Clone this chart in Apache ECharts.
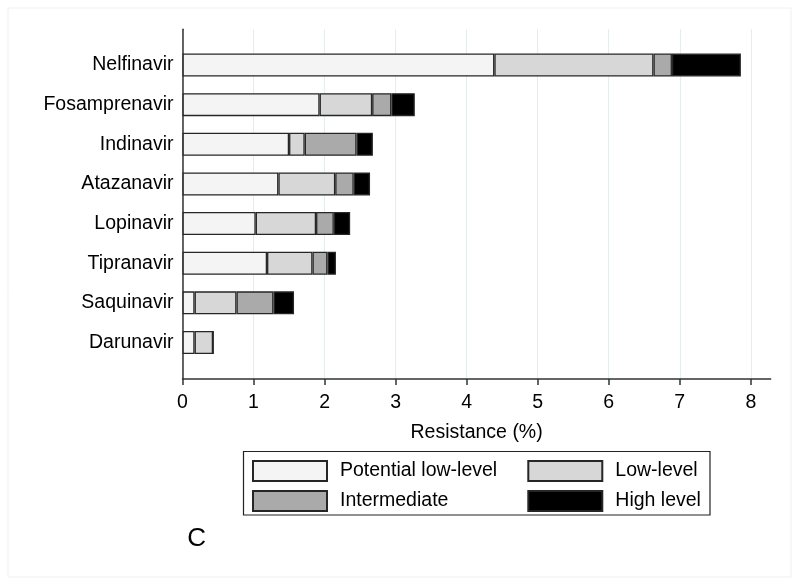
<!DOCTYPE html>
<html>
<head>
<meta charset="utf-8">
<script src="https://cdn.jsdelivr.net/npm/echarts@6/dist/echarts.min.js"></script>
<style>html,body{margin:0;padding:0;background:#fff}#c{width:800px;height:586px}</style>
</head>
<body>
<div id="c"></div>
<script>
var categories = ['Nelfinavir','Fosamprenavir','Indinavir','Atazanavir','Lopinavir','Tipranavir','Saquinavir','Darunavir'];
var potentialLow = [4.39, 1.93, 1.50, 1.35, 1.03, 1.19, 0.17, 0.17];
var lowLevel     = [2.24, 0.74, 0.22, 0.80, 0.85, 0.64, 0.59, 0.26];
var intermediate = [0.26, 0.27, 0.73, 0.26, 0.25, 0.21, 0.52, 0];
var highLevel    = [0.97, 0.33, 0.23, 0.23, 0.23, 0.12, 0.29, 0];
var tickValues = [0,1,2,3,4,5,6,7,8];
var seriesNames = ['Potential low-level','Low-level','Intermediate','High level'];

var FONT = '"Liberation Sans", Arial, Helvetica, sans-serif';
var FS = 19.5;
var xMax = 8.28;
var colors = ['#f4f4f4','#d7d7d7','#aaaaaa','#000000'];
var dataSets = [potentialLow, lowLevel, intermediate, highLevel];

var chart = echarts.init(document.getElementById('c'), null, {renderer:'canvas'});
var series = seriesNames.map(function(n,i){
  return {
    name:n, type:'bar', stack:'total', xAxisIndex:1, yAxisIndex:1,
    barWidth:23, data:dataSets[i],
    itemStyle:{color:colors[i], borderColor:'#262626', borderWidth:1.3},
    emphasis:{disabled:true}, animation:false
  };
});
var option = {
  animation:false,
  textStyle:{fontFamily:FONT},
  grid:[
    {left:182.5, right:29.3, top:29.3, bottom:207},
    {left:182.5, right:29.3, top:45.2, bottom:223.7}
  ],
  xAxis:[
    {type:'value', gridIndex:0, min:0, max:xMax, interval:1,
     axisLine:{show:true, lineStyle:{color:'#333', width:1.5}},
     axisTick:{show:true, length:6, customValues:tickValues, lineStyle:{color:'#333', width:1.5}},
     axisLabel:{customValues:tickValues, color:'#000', fontSize:FS, fontFamily:FONT, margin:14},
     splitLine:{show:true, lineStyle:{color:'#e5eeee', width:1.2}},
     name:'Resistance (%)', nameLocation:'middle', nameGap:44,
     nameTextStyle:{color:'#000', fontSize:FS, fontFamily:FONT}},
    {type:'value', gridIndex:1, min:0, max:xMax, show:false}
  ],
  yAxis:[
    {type:'value', gridIndex:0, min:0, max:1,
     axisLine:{show:true, lineStyle:{color:'#333', width:1.5}},
     axisTick:{show:false}, axisLabel:{show:false}, splitLine:{show:false}},
    {type:'category', gridIndex:1, inverse:true, data:categories,
     axisLine:{show:false}, axisTick:{show:false},
     axisLabel:{color:'#000', fontSize:FS, fontFamily:FONT, margin:9, padding:[5,0,0,0]}}
  ],
  legend:[
    {data:[seriesNames[0], seriesNames[2]], orient:'vertical', left:252, top:460, padding:0,
     itemWidth:74, itemHeight:20, itemGap:8, icon:'rect', selectedMode:false,
     textStyle:{color:'#000', fontSize:FS, fontFamily:FONT, padding:[4,0,0,8]}},
    {data:[seriesNames[1], seriesNames[3]], orient:'vertical', left:527.3, top:460, padding:0,
     itemWidth:74, itemHeight:20, itemGap:8, icon:'rect', selectedMode:false,
     textStyle:{color:'#000', fontSize:FS, fontFamily:FONT, padding:[4,0,0,8]}}
  ],
  graphic:[
    {type:'rect', shape:{x:8, y:8, width:783, height:569}, style:{fill:null, stroke:'#efefef', lineWidth:1}, silent:true},
    {type:'rect', shape:{x:243.5, y:451.5, width:466.5, height:63.5}, style:{fill:null, stroke:'#222', lineWidth:1.2}, silent:true},
    {type:'text', x:196.7, y:539, style:{text:'C', fill:'#000', font:'26px ' + FONT, textAlign:'center', textVerticalAlign:'middle'}, silent:true}
  ],
  series:series
};
chart.setOption(option);
</script>
</body>
</html>
